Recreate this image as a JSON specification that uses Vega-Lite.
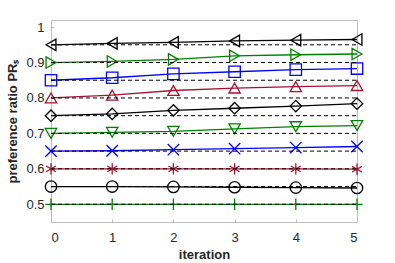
{
  "$schema": "https://vega.github.io/schema/vega-lite/v6.json",
  "width": 306,
  "height": 202,
  "autosize": {"type": "none"},
  "padding": {"left": 51, "top": 20, "right": 38, "bottom": 41},
  "background": "white",
  "config": {
    "view": {"stroke": "#bdbdbd", "strokeWidth": 1},
    "font": "Liberation Sans",
    "axis": {
      "grid": false,
      "domainColor": "#bdbdbd",
      "tickColor": "#bdbdbd",
      "labelColor": "#262626",
      "labelFontSize": 13,
      "titleColor": "#262626",
      "titleFontSize": 13,
      "titleFontWeight": "bold"
    }
  },
  "datasets": {
    "base": [
      {"base": 0.95}, {"base": 0.9}, {"base": 0.85}, {"base": 0.8}, {"base": 0.75},
      {"base": 0.7}, {"base": 0.65}, {"base": 0.6}, {"base": 0.55}, {"base": 0.5}
    ],
    "runs": [
      {"series": "s1", "iter": 0, "value": 0.95},
      {"series": "s1", "iter": 1, "value": 0.954},
      {"series": "s1", "iter": 2, "value": 0.957},
      {"series": "s1", "iter": 3, "value": 0.961},
      {"series": "s1", "iter": 4, "value": 0.963},
      {"series": "s1", "iter": 5, "value": 0.965},
      {"series": "s2", "iter": 0, "value": 0.9},
      {"series": "s2", "iter": 1, "value": 0.903},
      {"series": "s2", "iter": 2, "value": 0.909},
      {"series": "s2", "iter": 3, "value": 0.919},
      {"series": "s2", "iter": 4, "value": 0.922},
      {"series": "s2", "iter": 5, "value": 0.924},
      {"series": "s3", "iter": 0, "value": 0.85},
      {"series": "s3", "iter": 1, "value": 0.857},
      {"series": "s3", "iter": 2, "value": 0.868},
      {"series": "s3", "iter": 3, "value": 0.874},
      {"series": "s3", "iter": 4, "value": 0.88},
      {"series": "s3", "iter": 5, "value": 0.883},
      {"series": "s4", "iter": 0, "value": 0.8},
      {"series": "s4", "iter": 1, "value": 0.808},
      {"series": "s4", "iter": 2, "value": 0.821},
      {"series": "s4", "iter": 3, "value": 0.828},
      {"series": "s4", "iter": 4, "value": 0.832},
      {"series": "s4", "iter": 5, "value": 0.835},
      {"series": "s5", "iter": 0, "value": 0.75},
      {"series": "s5", "iter": 1, "value": 0.755},
      {"series": "s5", "iter": 2, "value": 0.765},
      {"series": "s5", "iter": 3, "value": 0.771},
      {"series": "s5", "iter": 4, "value": 0.777},
      {"series": "s5", "iter": 5, "value": 0.784},
      {"series": "s6", "iter": 0, "value": 0.7},
      {"series": "s6", "iter": 1, "value": 0.703},
      {"series": "s6", "iter": 2, "value": 0.706},
      {"series": "s6", "iter": 3, "value": 0.713},
      {"series": "s6", "iter": 4, "value": 0.719},
      {"series": "s6", "iter": 5, "value": 0.722},
      {"series": "s7", "iter": 0, "value": 0.65},
      {"series": "s7", "iter": 1, "value": 0.651},
      {"series": "s7", "iter": 2, "value": 0.654},
      {"series": "s7", "iter": 3, "value": 0.657},
      {"series": "s7", "iter": 4, "value": 0.66},
      {"series": "s7", "iter": 5, "value": 0.663},
      {"series": "s8", "iter": 0, "value": 0.6},
      {"series": "s8", "iter": 1, "value": 0.6},
      {"series": "s8", "iter": 2, "value": 0.6},
      {"series": "s8", "iter": 3, "value": 0.6},
      {"series": "s8", "iter": 4, "value": 0.6},
      {"series": "s8", "iter": 5, "value": 0.599},
      {"series": "s9", "iter": 0, "value": 0.55},
      {"series": "s9", "iter": 1, "value": 0.55},
      {"series": "s9", "iter": 2, "value": 0.549},
      {"series": "s9", "iter": 3, "value": 0.548},
      {"series": "s9", "iter": 4, "value": 0.547},
      {"series": "s9", "iter": 5, "value": 0.546},
      {"series": "s10", "iter": 0, "value": 0.5},
      {"series": "s10", "iter": 1, "value": 0.5},
      {"series": "s10", "iter": 2, "value": 0.5},
      {"series": "s10", "iter": 3, "value": 0.5},
      {"series": "s10", "iter": 4, "value": 0.5},
      {"series": "s10", "iter": 5, "value": 0.5}
    ]
  },
  "layer": [
    {
      "data": {"name": "runs"},
      "mark": {"type": "line", "strokeWidth": 1.3},
      "encoding": {
        "x": {
          "field": "iter", "type": "quantitative",
          "scale": {"domain": [0, 5], "nice": false, "zero": false},
          "axis": {"values": [0, 1, 2, 3, 4, 5], "format": "d", "title": "iteration", "tickSize": -3, "labelPadding": 12, "titlePadding": 4}
        },
        "y": {
          "field": "value", "type": "quantitative",
          "scale": {"domain": [0.45, 1.02], "nice": false, "zero": false},
          "axis": {"values": [0.5, 0.6, 0.7, 0.8, 0.9, 1], "format": "~g", "title": "preference ratio PRₛ", "tickSize": -3, "labelPadding": 10, "titlePadding": 6}
        },
        "color": {
          "field": "series", "type": "nominal", "legend": null,
          "scale": {
            "domain": ["s1","s2","s3","s4","s5","s6","s7","s8","s9","s10"],
            "range": ["#000000","#008000","#0000ff","#a2142f","#000000","#008000","#0000ff","#a2142f","#000000","#008000"]
          }
        },
        "detail": {"field": "series"}
      }
    },
    {
      "data": {"name": "runs"},
      "mark": {"type": "point", "filled": false, "strokeWidth": 1.3, "opacity": 1},
      "encoding": {
        "x": {"field": "iter", "type": "quantitative"},
        "y": {"field": "value", "type": "quantitative"},
        "color": {"field": "series", "type": "nominal", "legend": null},
        "shape": {
          "field": "series", "type": "nominal", "legend": null,
          "scale": {
            "domain": ["s1","s2","s3","s4","s5","s6","s7","s8","s9","s10"],
            "range": ["triangle-left","triangle-right","square","triangle-up","diamond","triangle-down","M-1,-1L1,1M-1,1L1,-1","M0,-1L0,1M-0.87,-0.5L0.87,0.5M-0.87,0.5L0.87,-0.5","circle","M-1,0L1,0M0,-1L0,1"]
          }
        },
        "size": {
          "field": "series", "type": "nominal", "legend": null,
          "scale": {
            "domain": ["s1","s2","s3","s4","s5","s6","s7","s8","s9","s10"],
            "range": [130, 130, 70, 140, 150, 140, 90, 100, 120, 110]
          }
        }
      }
    },
    {
      "data": {"name": "base"},
      "mark": {"type": "rule", "color": "#000000", "strokeWidth": 1, "strokeDash": [4, 3]},
      "encoding": {
        "x": {"datum": 0, "type": "quantitative"},
        "x2": {"datum": 5},
        "y": {"field": "base", "type": "quantitative"}
      }
    }
  ]
}
